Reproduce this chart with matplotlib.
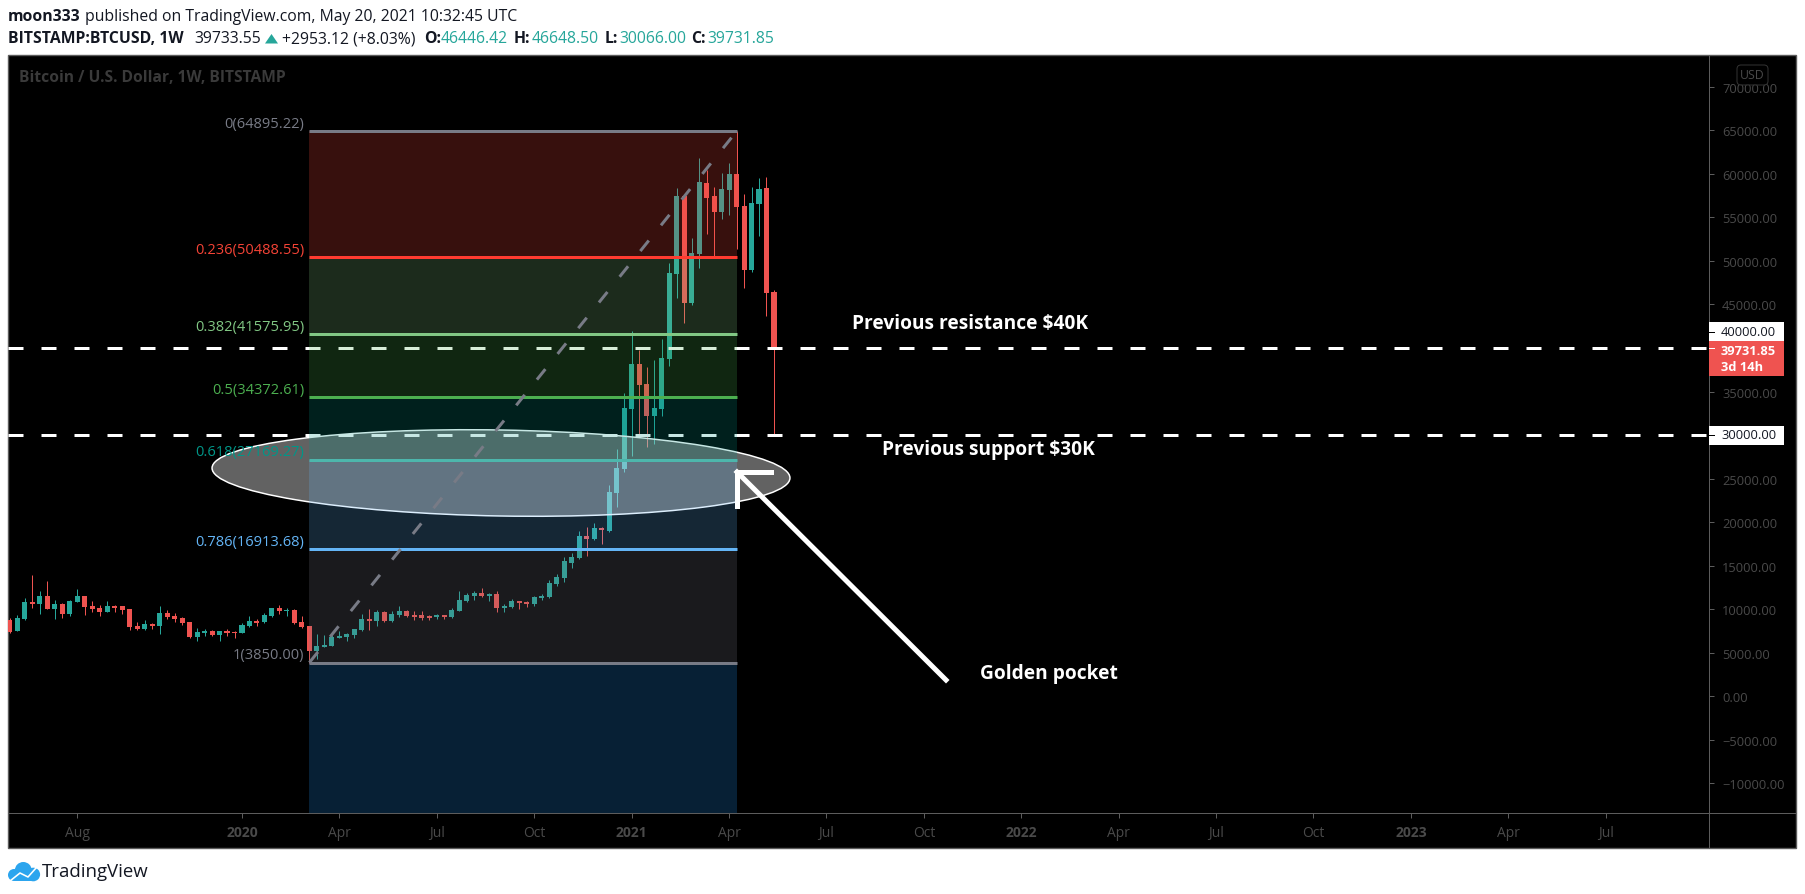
import numpy as np
import pandas as pd
import matplotlib
matplotlib.use('Agg')
import matplotlib.pyplot as plt
import matplotlib.dates as mdates
from matplotlib.lines import Line2D
from matplotlib.patches import Circle, Ellipse, FancyBboxPatch, Polygon, Rectangle
from matplotlib.transforms import Affine2D

plt.rcParams['font.family'] = ['Open Sans', 'DejaVu Sans']

# --- Data ---
opens = [8740, 7470, 8810, 10770, 10580, 11500, 10000, 10580, 9430, 10810,
         11500, 10350, 10120, 9660, 10350, 10350, 10000, 8050, 7700, 8280,
         8050, 9540, 9200, 8970, 8510, 6780, 7240, 7470, 7010, 7470,
         7400, 7240, 8050, 8620, 8510, 9200, 10120, 9810, 9890, 8510,
         8050, 5180, 5640, 5750, 6670, 6780, 7010, 7590, 8850, 8620,
         9660, 8620, 9310, 9770, 9310, 9310, 9200, 9080, 9310, 9080,
         9770, 10920, 11500, 11840, 11500, 11730, 10120, 10230, 10920, 10810,
         10580, 11270, 11380, 12880, 13560, 15290, 15860, 18390, 18050, 19310,
         18970, 23330, 26090, 32990, 38160, 35860, 32180, 32990, 38740, 48510,
         57470, 45170, 50800, 58970, 57470, 55630, 58160, 60000, 56320, 48970,
         56550, 58390, 46446.42]
highs = [8930, 9270, 11230, 13910, 12070, 13220, 11040, 10650, 11040, 12300,
         11500, 10880, 10460, 10920, 10460, 10350, 10000, 8510, 8740, 8390,
         10350, 9890, 9540, 9080, 8510, 7820, 7700, 7590, 7470, 7700,
         7470, 8390, 9200, 8810, 9540, 10120, 10460, 10120, 10000, 9200,
         8050, 7130, 7010, 7010, 7470, 7240, 7700, 9430, 10000, 9890,
         9770, 9770, 10350, 9890, 9770, 9770, 9310, 9430, 9310, 10120,
         12070, 11840, 12070, 12420, 11840, 12070, 10580, 11150, 10920, 10920,
         11500, 11730, 13340, 14020, 15980, 16440, 18970, 19430, 19890, 19430,
         24250, 28390, 34830, 41950, 39770, 37820, 38620, 41030, 49770, 58390,
         57470, 52640, 61840, 60460, 58510, 60120, 61260, 64940, 57700, 58510,
         59540, 59660, 46648.50]
lows = [7280, 7440, 8740, 10150, 9430, 10000, 8850, 8930, 9240, 10810,
        9310, 9700, 9200, 9660, 9700, 9430, 7590, 7630, 7590, 7700,
        7130, 8850, 8510, 8160, 6670, 6320, 6900, 6900, 6320, 6900,
        6670, 7240, 7930, 8050, 8390, 9080, 9430, 9200, 8280, 7820,
        3850, 4260, 5640, 5750, 6670, 6320, 6670, 7470, 7590, 8050,
        8510, 8510, 9080, 9080, 8740, 8740, 8740, 8850, 8850, 8970,
        9770, 10810, 11040, 11380, 10920, 9660, 9660, 10120, 10000, 10230,
        10350, 11040, 11270, 12650, 13110, 14710, 15750, 16090, 17930, 17470,
        18850, 21720, 25750, 27590, 30000, 28620, 28970, 32180, 37930, 45750,
        42870, 44940, 49200, 53100, 50570, 54830, 55290, 51380, 46900, 48740,
        52870, 43680, 30066.00]
closes = [7400, 8930, 10770, 10580, 11500, 10000, 10580, 9430, 10920, 11500,
          10270, 9960, 9660, 10350, 10160, 9890, 7930, 7700, 8280, 8050,
          9540, 9080, 8850, 8390, 6780, 7360, 7470, 7010, 7470, 7240,
          7280, 8160, 8620, 8390, 9310, 10120, 9770, 9890, 8390, 7930,
          5180, 5750, 5860, 6780, 6900, 7130, 7700, 8850, 8620, 9660,
          8620, 9430, 9770, 9200, 9080, 8970, 8970, 9310, 9120, 9890,
          11040, 11610, 11840, 11500, 11730, 10120, 10350, 10920, 10690, 10580,
          11380, 11500, 12990, 13680, 15520, 15980, 18390, 18050, 19310, 19080,
          23450, 26210, 33100, 38160, 35750, 32180, 33100, 38850, 48620, 57470,
          45170, 50920, 59080, 57240, 55630, 58280, 60000, 56210, 48970, 56670,
          58280, 46320, 39731.85]

fib_ratios = ['0', '0.236', '0.382', '0.5', '0.618', '0.786', '1']
fib_prices = [64895.22, 50488.55, 41575.95, 34372.61, 27169.27, 16913.68, 3850.00]
fib_colors = ['#787b86', '#f44336', '#81c784', '#4caf50', '#009688', '#64b5f6', '#787b86']
fib_fills = ['#ff4a3d', '#81c784', '#4caf50', '#009688', '#64b5f6', '#787b86', '#2196f3']
fib_line_colors = ['#787b86', '#ff3b30', '#81c784', '#4caf50', '#4db6ac', '#64b5f6', '#787b86']

price_ticks = [70000, 65000, 60000, 55000, 50000, 45000, 35000, 25000, 20000,
               15000, 10000, 5000, 0, -5000, -10000]
time_ticks = ['2019-08-05', '2020-01-06', '2020-04-06', '2020-07-06', '2020-10-05',
              '2021-01-04', '2021-04-05', '2021-07-05', '2021-10-04', '2022-01-03',
              '2022-04-04', '2022-07-04', '2022-10-03', '2023-01-02', '2023-04-03',
              '2023-07-03']
time_labels = ['Aug', '2020', 'Apr', 'Jul', 'Oct', '2021', 'Apr', 'Jul', 'Oct', '2022',
               'Apr', 'Jul', 'Oct', '2023', 'Apr', 'Jul']

dates = pd.date_range(end='2021-05-17', periods=len(opens), freq='W-MON')
x = mdates.date2num(dates)
opens, highs, lows, closes = map(np.array, (opens, highs, lows, closes))

# --- Figure ---
W, H = 1805, 895
fig = plt.figure(figsize=(W / 100, H / 100), dpi=100, facecolor='white')
px = Affine2D().scale(1, -1).translate(0, H - 1)   # pixel coordinates, y going down
lw = 0.72                                          # one pixel in points
dim = '#4a4a4a'

fig.add_artist(Rectangle((8, 55), 1788, 793, transform=px, fc='black', ec='#5c5c5c',
                         lw=1.4 * lw, zorder=-2))
fig.add_artist(Line2D([1709, 1709], [55, 848], transform=px, color='#5c5c5c', lw=lw, zorder=-1))
fig.add_artist(Line2D([8, 1796], [813, 813], transform=px, color='#5c5c5c', lw=lw, zorder=-1))

ax = fig.add_axes([8 / W, (H - 814) / H, 1701 / W, 758 / H], facecolor='none')
last = mdates.date2num(pd.Timestamp('2021-05-17'))
ax.set_xlim(last - 715.6, last + 873.5)
ax.set_ylim(-13448, 73678)
for s in ax.spines.values():
    s.set_visible(False)

# candles
green, red = '#26a69a', '#ef5350'
colors = np.where(closes >= opens, green, red)
ax.vlines(x, lows, highs, colors=colors, lw=lw, zorder=2)
ax.bar(x, closes - opens, bottom=opens, width=4.7, color=colors, lw=0, zorder=2)

# horizontal lines
for level in [40000, 30000]:
    ax.axhline(level, color='white', lw=3 * lw, ls=(0, (5, 6)),
               dash_capstyle='butt', zorder=3)

# ellipse
ax.add_patch(Ellipse((501, 473), 578, 86, angle=1.0, transform=px, fc=(1, 1, 1, 0.39),
                     ec='white', lw=1.5 * lw, zorder=4))

# fib retracement
fib_start = mdates.date2num(pd.Timestamp('2020-03-09'))
fib_end = mdates.date2num(pd.Timestamp('2021-04-12'))
edges = fib_prices + [ax.get_ylim()[0]]
for i, c in enumerate(fib_fills):
    ax.fill_between([fib_start, fib_end], edges[i + 1], edges[i], color=c, alpha=0.22,
                    lw=0, zorder=5)
for ratio, price, c, lc in zip(fib_ratios, fib_prices, fib_colors, fib_line_colors):
    ax.plot([fib_start, fib_end], [price, price], color=lc, lw=3 * lw,
            solid_capstyle='butt', zorder=6)
    ax.annotate(f'{ratio}({price:.2f})', (fib_start, price), xytext=(-3.5, 5.5),
                textcoords='offset points', ha='right', va='center', color=c,
                fontsize=10.5, zorder=7)
ax.plot([fib_start, fib_end], [fib_prices[-1], fib_prices[0]], color='#787b86', lw=3 * lw,
        ls=(0, (4.5, 6.5)), dash_capstyle='butt', zorder=7)

# arrow
for xs, ys in [([946, 737], [680, 472]), ([737, 771], [472, 472]), ([737, 737], [472, 506])]:
    ax.plot(xs, ys, transform=px, color='white', lw=5 * lw, clip_on=False,
            solid_capstyle='projecting', zorder=8)

# notes
note = dict(transform=px, color='white', fontweight='bold', fontsize=13.75, va='center', zorder=9)
ax.text(852, 323, 'Previous resistance \\$40K', **note)
ax.text(882, 449, 'Previous support \\$30K', **note)
ax.text(980, 673, 'Golden pocket', **note)

# axes
ax.yaxis.tick_right()
ax.set_yticks(price_ticks)
ax.set_yticklabels([f'{v:.2f}'.replace('-', '\u2212') for v in price_ticks])
ax.tick_params(axis='y', length=5 * lw, width=lw, color='#5c5c5c', labelcolor=dim,
               labelsize=9.3, pad=5.8)
ax.set_xticks(mdates.date2num(pd.to_datetime(time_ticks)))
ax.set_xticklabels(time_labels)
ax.tick_params(axis='x', length=5 * lw, width=lw, color='#5c5c5c', labelcolor=dim,
               labelsize=10, pad=5)
for t in ax.get_xticklabels():
    if t.get_text().isdigit():
        t.set_fontweight('bold')

# price labels
def price_box(y0, y1, color):
    ax.add_patch(Rectangle((1709, y0), 75, y1 - y0, transform=px, fc=color, lw=0,
                           clip_on=False, zorder=10))

price_box(322, 341, 'white')
price_box(341, 376, '#ef5350')
price_box(426, 445, 'white')
for y, c in [(331.5, 'black'), (348, 'white'), (435, 'black')]:
    ax.plot([1709, 1714], [y, y], transform=px, color=c, lw=lw, clip_on=False, zorder=11)
side = dict(transform=px, va='center', ha='left', fontsize=9.3, clip_on=False, zorder=11)
ax.text(1721, 332, '40000.00', color='#131722', **side)
ax.text(1721, 350.5, '39731.85', color='white', fontweight='bold', **side)
ax.text(1721, 367, '3d 14h', color='white', fontweight='bold', **side)
ax.text(1721, 435, '30000.00', color='#131722', **side)

# USD badge
ax.add_patch(FancyBboxPatch((1739, 67), 27, 16, boxstyle='round,pad=2,rounding_size=4',
                            transform=px, fc=(0, 0, 0, 0.7), ec='#333333', lw=lw,
                            clip_on=False, zorder=10))
ax.text(1752.5, 74.5, 'USD', transform=px, color=dim, fontsize=8.8, ha='center', va='center',
        clip_on=False, zorder=11)

# title inside the pane
ax.text(19, 77, 'Bitcoin / U.S. Dollar, 1W, BITSTAMP', transform=px, color='#3a3a3a',
        fontweight='bold', fontsize=11.25, va='center', zorder=9)

# header
def head(x0, y, s, color='#131722', weight='normal'):
    fig.text(x0, y, s, transform=px, color=color, fontweight=weight, fontsize=11.35, va='center')

teal = '#26a69a'
head(8, 16, 'moon333', weight='bold')
head(85, 16, 'published on TradingView.com, May 20, 2021 10:32:45 UTC')
head(8, 38.5, 'BITSTAMP:BTCUSD, 1W', weight='bold')
head(194, 38.5, '39733.55')
fig.add_artist(Polygon([[265, 43.5], [278, 43.5], [271.5, 34]], transform=px, fc=teal, lw=0))
head(282, 38.5, '+2953.12 (+8.03%)')
for xl, letter, xv, value in [(424, 'O:', 441, '46446.42'), (514, 'H:', 532, '46648.50'),
                              (605, 'L:', 619, '30066.00'), (691, 'C:', 707, '39731.85')]:
    head(xl, 38.5, letter, weight='bold')
    head(xv, 38.5, value, color=teal)

# logo
cloud = '#2ca5ee'
for center, r in [((23.3, 870.5), 8.5), ((14, 875), 6), ((33.3, 874.5), 6.8)]:
    fig.add_artist(Circle(center, r, transform=px, fc=cloud, lw=0))
fig.add_artist(Rectangle((14, 875), 19, 6, transform=px, fc=cloud, lw=0))
fig.add_artist(Line2D([10, 20, 28, 36], [881, 873, 877, 868], transform=px, color='white', lw=1.6 * lw))
fig.text(42, 871.5, 'TradingView', transform=px, color='#131722', fontsize=13.4, va='center')

fig.savefig('out.png', dpi=100, facecolor='white')
